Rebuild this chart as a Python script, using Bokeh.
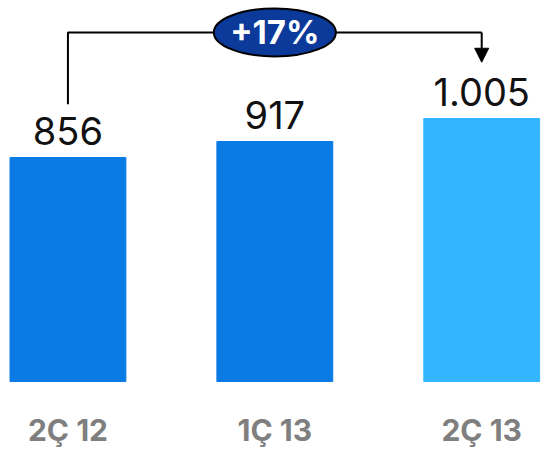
from bokeh.plotting import figure
from bokeh.models import Range1d, ColumnDataSource, Arrow, NormalHead
from bokeh.core.properties import value
from bokeh.embed import file_html
from bokeh.resources import INLINE

# ---- data ----
categories = ["2Ç 12", "1Ç 13", "2Ç 13"]
values = [856, 917, 1005]
value_labels = ["856", "917", "1.005"]
bar_colors = ["#0a7be5", "#0a7be5", "#33b5ff"]
growth_label = "+17%"

xs = list(range(len(categories)))
label_gap = 102     # data units between bar top and middle of value label
cat_label_y = -186  # data y of category label middle

src = ColumnDataSource(dict(x=xs, top=values, cat=categories, lab=value_labels,
                            color=bar_colors,
                            lab_y=[v + label_gap for v in values],
                            cat_y=[cat_label_y] * len(xs)))

p = figure(width=541, height=448, output_backend="svg", toolbar_location=None,
           x_range=Range1d(-0.326, 2.289), y_range=Range1d(-256, 1456),
           min_border=0)
p.axis.visible = False
p.grid.visible = False
p.outline_line_color = None
p.background_fill_color = "white"
p.border_fill_color = "white"

p.vbar(x="x", top="top", bottom=0, width=0.56, color="color", source=src)

p.text(x="x", y="lab_y", text="lab", source=src,
       text_align="center", text_baseline="middle",
       text_font=value("Inter"), text_font_size="38px", text_color="#111111")

p.text(x="x", y="cat_y", text="cat", source=src,
       text_align="center", text_baseline="middle",
       text_font=value("Inter"), text_font_style="bold",
       text_font_size="30px", text_color="#7f7f7f")

# growth bracket from first to last bar
bracket_y = 1334
p.line(x=[xs[0], xs[0], xs[-1]], y=[1060, bracket_y, bracket_y],
       line_color="black", line_width=2)
p.add_layout(Arrow(end=NormalHead(size=14, fill_color="black", line_color="black"),
                   x_start=xs[-1], y_start=bracket_y, x_end=xs[-1], y_end=1220,
                   line_color="black", line_width=2))

mid = (xs[0] + xs[-1]) / 2
p.ellipse(x=[mid], y=[bracket_y], width=122, height=48,
          width_units="screen", height_units="screen",
          fill_color="#0b3a9b", line_color="black", line_width=2)
p.text(x=[mid], y=[bracket_y], text=[growth_label], text_align="center",
       text_baseline="middle", text_font=value("Inter"), text_font_style="bold",
       text_font_size="33px", text_color="white")

open("out.html", "w").write(file_html(p, INLINE))
